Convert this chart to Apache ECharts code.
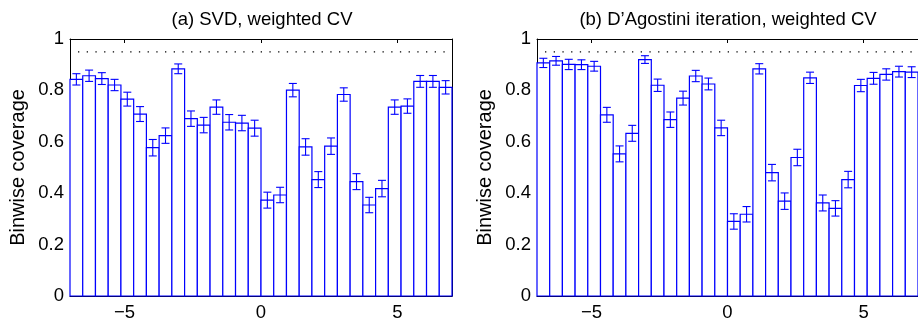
<!DOCTYPE html>
<html>
<head>
<meta charset="utf-8">
<script src="https://cdn.jsdelivr.net/npm/echarts@6/dist/echarts.min.js"></script>
<style>
  html, body { margin: 0; padding: 0; background: #fff; }
  #chart { width: 918px; height: 322px; }
</style>
</head>
<body>
<div id="chart"></div>
<script>
// histogram binning of the unfolded variable
const xMin = -7;
const xMax = 7;
const nBins = 30;
const xTicks = [-5, 0, 5];
const nominal = 0.95;

const titleA = '(a) SVD, weighted CV';
const titleB = '(b) D\u2019Agostini iteration, weighted CV';
const yName = 'Binwise coverage';

// (a) SVD
const coverageA = [0.843, 0.857, 0.846, 0.821, 0.766, 0.708, 0.577, 0.624, 0.884, 0.690,
  0.665, 0.735, 0.676, 0.673, 0.653, 0.373, 0.393, 0.801, 0.580, 0.453,
  0.583, 0.784, 0.445, 0.354, 0.418, 0.735, 0.739, 0.835, 0.835, 0.812];
const errA = [0.022, 0.022, 0.023, 0.022, 0.027, 0.029, 0.032, 0.030, 0.019, 0.030,
  0.030, 0.028, 0.030, 0.030, 0.031, 0.031, 0.030, 0.026, 0.032, 0.031,
  0.032, 0.026, 0.031, 0.030, 0.032, 0.028, 0.028, 0.023, 0.023, 0.026];

// (b) D'Agostini
const coverageB = [0.907, 0.915, 0.901, 0.900, 0.894, 0.705, 0.553, 0.633, 0.920, 0.820,
  0.686, 0.770, 0.856, 0.825, 0.654, 0.290, 0.318, 0.884, 0.480, 0.369,
  0.539, 0.849, 0.362, 0.341, 0.453, 0.819, 0.847, 0.862, 0.873, 0.871];
const errB = [0.018, 0.017, 0.020, 0.019, 0.019, 0.029, 0.031, 0.031, 0.015, 0.024,
  0.030, 0.027, 0.022, 0.023, 0.030, 0.030, 0.030, 0.020, 0.032, 0.032,
  0.032, 0.022, 0.031, 0.030, 0.032, 0.024, 0.023, 0.022, 0.021, 0.021];

const blue = '#0000ff';
const font = '"Liberation Sans", Arial, Helvetica, sans-serif';
const fs = 18.5;

function binData(values, errs) {
  const w = (xMax - xMin) / nBins;
  return values.map((v, i) => [xMin + i * w, xMin + (i + 1) * w, v, errs[i]]);
}

function renderBar(params, api) {
  const x0 = api.value(0), x1 = api.value(1), v = api.value(2), e = api.value(3);
  const p0 = api.coord([x0, 0]);
  const p1 = api.coord([x1, v]);
  const xc = api.coord([(x0 + x1) / 2, v])[0];
  const lo = api.coord([x0, v - e])[1];
  const hi = api.coord([x0, v + e])[1];
  const cap = 4;
  const lineStyle = { stroke: blue, lineWidth: 1.1, fill: null };
  return {
    type: 'group',
    children: [
      {
        type: 'rect',
        shape: { x: p0[0], y: p1[1], width: p1[0] - p0[0], height: p0[1] - p1[1] },
        style: { fill: '#fff', stroke: blue, lineWidth: 1.2 }
      },
      { type: 'line', shape: { x1: xc, y1: lo, x2: xc, y2: hi }, style: lineStyle },
      { type: 'line', shape: { x1: xc - cap, y1: lo, x2: xc + cap, y2: lo }, style: lineStyle },
      { type: 'line', shape: { x1: xc - cap, y1: hi, x2: xc + cap, y2: hi }, style: lineStyle }
    ]
  };
}

function fmtX(v) {
  return String(v).replace('-', '\u2212');
}

const grids = [
  { left: 70, top: 39, width: 382, height: 259 },
  { left: 537, top: 39, width: 383, height: 259 }
];

const axisLine = { show: true, onZero: false, lineStyle: { color: '#000', width: 1 } };

const xAxes = [];
const yAxes = [];
grids.forEach((g, i) => {
  // bottom axis with labels
  xAxes.push({
    type: 'value', gridIndex: i, min: xMin, max: xMax, position: 'bottom',
    splitLine: { show: false },
    axisLine: axisLine,
    axisTick: { show: true, inside: true, length: 4, customValues: xTicks, lineStyle: { color: '#000' } },
    axisLabel: { show: true, customValues: xTicks, formatter: fmtX, margin: 7, color: '#000', fontSize: fs, fontFamily: font }
  });
  // top axis, ticks only
  xAxes.push({
    type: 'value', gridIndex: i, min: xMin, max: xMax, position: 'top',
    splitLine: { show: false },
    axisLine: axisLine,
    axisTick: { show: true, inside: true, length: 4, customValues: xTicks, lineStyle: { color: '#000' } },
    axisLabel: { show: false }
  });
  yAxes.push({
    type: 'value', gridIndex: i, min: 0, max: 1, interval: 0.2, position: 'left',
    name: yName, nameLocation: 'middle', nameGap: 42, nameRotate: 90,
    nameTextStyle: { color: '#000', fontSize: 20, fontFamily: font },
    splitLine: { show: false },
    axisLine: axisLine,
    axisTick: { show: true, inside: true, length: 4, lineStyle: { color: '#000' } },
    axisLabel: { show: true, margin: 6, color: '#000', fontSize: fs, fontFamily: font }
  });
  yAxes.push({
    type: 'value', gridIndex: i, min: 0, max: 1, interval: 0.2, position: 'right',
    splitLine: { show: false },
    axisLine: axisLine,
    axisTick: { show: true, inside: true, length: 4, lineStyle: { color: '#000' } },
    axisLabel: { show: false }
  });
});

const panels = [
  { values: coverageA, errs: errA },
  { values: coverageB, errs: errB }
];

const series = [];
panels.forEach((p, i) => {
  series.push({
    type: 'custom',
    xAxisIndex: i * 2, yAxisIndex: i * 2,
    renderItem: renderBar,
    encode: { x: [0, 1], y: 2 },
    data: binData(p.values, p.errs),
    clip: false,
    silent: true,
    z: 3
  });
  // nominal 95% coverage
  series.push({
    type: 'line',
    xAxisIndex: i * 2, yAxisIndex: i * 2,
    data: [[xMin, nominal], [xMax, nominal]],
    symbol: 'none',
    silent: true,
    lineStyle: { color: '#000', width: 1.3, type: [1.3, 7.4], dashOffset: -8 },
    z: 2
  });
});

const chart = echarts.init(document.getElementById('chart'), null, { renderer: 'canvas' });
chart.setOption({
  animation: false,
  backgroundColor: '#fff',
  title: [
    {
      text: titleA, left: 262, top: 10, textAlign: 'center', padding: 0,
      textStyle: { color: '#000', fontSize: fs, fontWeight: 'normal', fontFamily: font }
    },
    {
      text: titleB, left: 728, top: 10, textAlign: 'center', padding: 0,
      textStyle: { color: '#000', fontSize: fs, fontWeight: 'normal', fontFamily: font }
    }
  ],
  grid: grids,
  xAxis: xAxes,
  yAxis: yAxes,
  series: series
});
</script>
</body>
</html>
